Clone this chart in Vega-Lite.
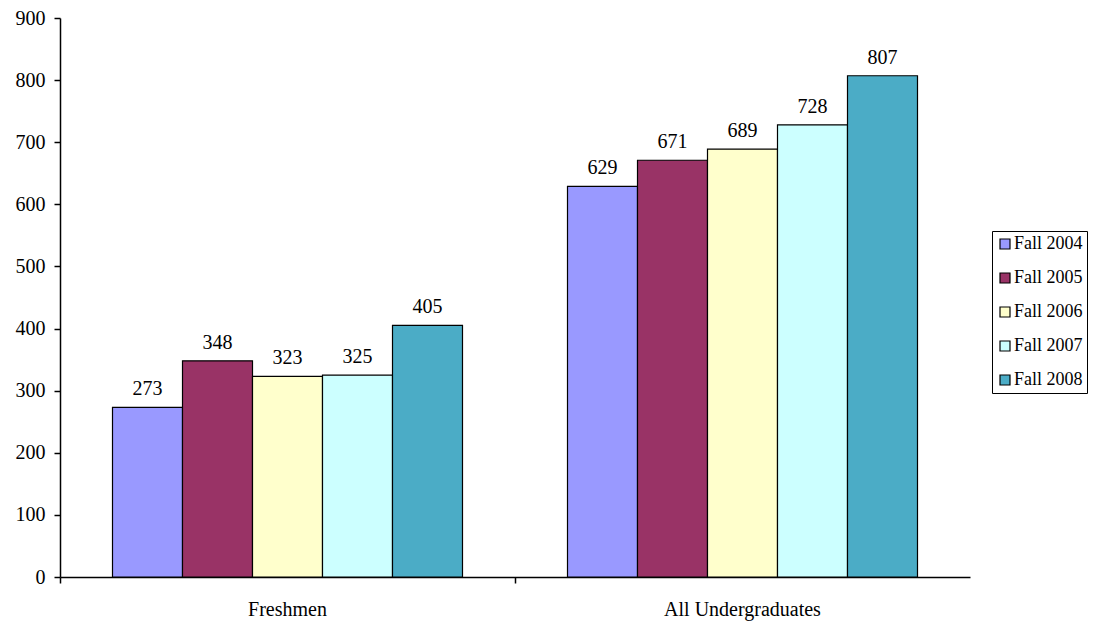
{
  "$schema": "https://vega.github.io/schema/vega-lite/v6.json",
  "width": 910,
  "height": 559,
  "autosize": "none",
  "padding": {"left": 60, "top": 18, "right": 124, "bottom": 46},
  "background": "white",
  "config": {
    "view": {"stroke": null},
    "font": "Liberation Serif"
  },
  "data": {
    "values": [
      {"group": "Freshmen", "term": "Fall 2004", "count": 273},
      {"group": "Freshmen", "term": "Fall 2005", "count": 348},
      {"group": "Freshmen", "term": "Fall 2006", "count": 323},
      {"group": "Freshmen", "term": "Fall 2007", "count": 325},
      {"group": "Freshmen", "term": "Fall 2008", "count": 405},
      {"group": "All Undergraduates", "term": "Fall 2004", "count": 629},
      {"group": "All Undergraduates", "term": "Fall 2005", "count": 671},
      {"group": "All Undergraduates", "term": "Fall 2006", "count": 689},
      {"group": "All Undergraduates", "term": "Fall 2007", "count": 728},
      {"group": "All Undergraduates", "term": "Fall 2008", "count": 807}
    ]
  },
  "encoding": {
    "x": {
      "field": "group",
      "type": "nominal",
      "sort": ["Freshmen", "All Undergraduates"],
      "scale": {"paddingInner": 0, "paddingOuter": 0},
      "axis": {
        "title": null,
        "labelAngle": 0,
        "bandPosition": 0,
        "labelFont": "Liberation Serif",
        "labelFontSize": 20,
        "labelColor": "#000000",
        "labelPadding": 16,
        "domainColor": "#000000",
        "domainWidth": 1.5,
        "tickColor": "#000000",
        "tickSize": 6,
        "tickWidth": 1.5
      }
    },
    "xOffset": {
      "field": "term",
      "type": "nominal",
      "scale": {"paddingInner": 0, "paddingOuter": 0.75}
    },
    "y": {
      "field": "count",
      "type": "quantitative",
      "scale": {"domain": [0, 900], "nice": false},
      "axis": {
        "title": null,
        "values": [0, 100, 200, 300, 400, 500, 600, 700, 800, 900],
        "grid": false,
        "labelFont": "Liberation Serif",
        "labelFontSize": 20,
        "labelColor": "#000000",
        "labelPadding": 9,
        "domainColor": "#000000",
        "domainWidth": 1.5,
        "tickColor": "#000000",
        "tickSize": 6,
        "tickWidth": 1.5
      }
    }
  },
  "layer": [
    {
      "mark": {"type": "bar", "stroke": "#000000", "strokeWidth": 1.2},
      "encoding": {
        "fill": {
          "field": "term",
          "type": "nominal",
          "scale": {
            "domain": ["Fall 2004", "Fall 2005", "Fall 2006", "Fall 2007", "Fall 2008"],
            "range": ["#9999FF", "#993366", "#FFFFCC", "#CCFFFF", "#4BACC6"]
          },
          "legend": {
            "title": null,
            "orient": "none",
            "legendX": 932,
            "legendY": 213,
            "strokeColor": "#000000",
            "padding": 4,
            "symbolType": "square",
            "symbolSize": 100,
            "symbolStrokeColor": "#000000",
            "symbolStrokeWidth": 1.2,
            "labelFont": "Liberation Serif",
            "labelFontSize": 18,
            "labelColor": "#000000",
            "labelOffset": 0,
            "rowPadding": 16
          }
        }
      }
    },
    {
      "mark": {
        "type": "text",
        "baseline": "alphabetic",
        "dy": -12,
        "font": "Liberation Serif",
        "fontSize": 20,
        "color": "#000000"
      },
      "encoding": {
        "text": {"field": "count", "type": "quantitative"}
      }
    }
  ]
}
